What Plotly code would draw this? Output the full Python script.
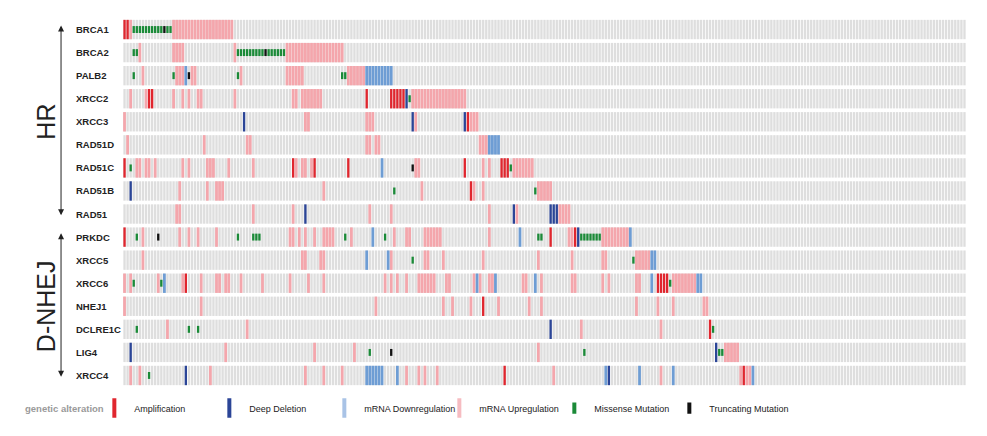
import plotly.graph_objects as go

# ---------------- data ----------------
GENES = ["BRCA1", "BRCA2", "PALB2", "XRCC2", "XRCC3", "RAD51D", "RAD51C", "RAD51B",
         "RAD51", "PRKDC", "XRCC5", "XRCC6", "NHEJ1", "DCLRE1C", "LIG4", "XRCC4"]
GROUPS = [("HR", "BRCA1", "RAD51"), ("D-NHEJ", "PRKDC", "XRCC4")]
N_SAMPLES = 275

# sample indices (ints) or inclusive runs (start, end)
MRNA_UP = {
    "BRCA1": [2, (16, 35)],
    "BRCA2": [5, (16, 19), 36, (53, 71)],
    "PALB2": [6, (17, 19), 22, 23, 38, (53, 58), (73, 78)],
    "XRCC2": [2, 7, 16, 19, 21, 24, 25, 36, 55, 56, (58, 64), (94, 111)],
    "XRCC3": [0, 59, 60, (79, 81), 95, (113, 115)],
    "RAD51D": [1, 26, 40, 41, 79, 80, 82, 83, (116, 118)],
    "RAD51C": [4, 5, 7, 8, 10, 19, 21, (27, 29), 34, 42, 56, 58, 59, 61, 95, 96, 117, 119, (127, 133)],
    "RAD51B": [18, 27, (30, 32), 65, 97, 114, 117, (135, 139)],
    "RAD51": [17, 18, 42, 55, 80, 87, 119, 128, (142, 145)],
    "PRKDC": [6, 18, 21, 24, 30, 54, 55, 57, 59, 62, (65, 68), 74, 88, 92, 93, (98, 103), 119,
              145, 146, (156, 164)],
    "XRCC5": [6, 58, 59, 64, 65, 87, 98, 99, 104, 117, 135, 146, 156, 157, (167, 171)],
    "XRCC6": [0, 2, 11, 19, 25, 30, 31, 33, 34, 38, 45, 54, 60, 65, 85, 87, 89, 92, (96, 101),
              105, 106, 114, 116, 119, 120, 130, 131, 136, 146, 147, 156, 158, 167, 168, (179, 186)],
    "NHEJ1": [0, 25, 82, 104, 107, 113, 122, 132, 136, 167, 174, 179, 189, 190],
    "DCLRE1C": [14, 40, 149, 175],
    "LIG4": [33, 62, 75, 135, (196, 200)],
    "XRCC4": [2, 5, 28, 59, 65, 71, 92, 96, 98, 102, 140, 175, 201, 203, 204],
}
MRNA_DOWN = {
    "PALB2": [20, (79, 87)],
    "RAD51D": [(119, 122)],
    "RAD51C": [84],
    "PRKDC": [81, 129, 165],
    "XRCC5": [79, 86, 172, 173],
    "XRCC6": [13, 115, 121, 134, 172, 187, 188],
    "XRCC4": [(79, 84), 89, 157, 168, 179, 205],
}
AMPLIFICATION = {
    "BRCA1": [0, 1],
    "XRCC2": [8, 9, 79, (87, 91)],
    "XRCC3": [112],
    "RAD51C": [0, 55, 62, 73, 111, (123, 125)],
    "RAD51B": [113],
    "PRKDC": [0, 139, 147],
    "XRCC6": [20, (174, 177)],
    "NHEJ1": [117],
    "DCLRE1C": [191],
    "XRCC4": [124, 202],
}
DEEP_DELETION = {
    "XRCC2": [92],
    "XRCC3": [39, 94, 111],
    "RAD51B": [2],
    "RAD51": [59, 127, (139, 141)],
    "PRKDC": [148],
    "DCLRE1C": [139],
    "LIG4": [2, 193],
    "XRCC4": [20, 158],
}
MISSENSE = {
    "BRCA1": [(3, 12), 14, 15],
    "BRCA2": [3, 4, (37, 45), (47, 52)],
    "PALB2": [3, 16, 37, 71, 72],
    "XRCC2": [93],
    "RAD51C": [2, 126],
    "RAD51B": [88, 134],
    "PRKDC": [4, 37, 42, 43, 44, 72, 85, 135, 136, (149, 155)],
    "XRCC5": [94, 166],
    "XRCC6": [3, 12, 178],
    "DCLRE1C": [4, 21, 24, 192],
    "LIG4": [80, 150, 194, 195],
    "XRCC4": [8],
}
TRUNCATING = {
    "BRCA1": [13],
    "BRCA2": [46],
    "PALB2": [21],
    "RAD51C": [94],
    "PRKDC": [11],
    "LIG4": [87],
}

LEGEND_TITLE = "genetic alteration"
LEGEND_LABELS = ["Amplification", "Deep Deletion", "mRNA Downregulation",
                 "mRNA Upregulation", "Missense Mutation", "Truncating Mutation"]

# ---------------- styles ----------------
C_BG = "#DEDEDE"
C_UP = "#F4A6AC"
C_DOWN = "#6E9DD4"
C_AMP = "#E0262E"
C_DEL = "#2B4597"
C_MIS = "#1B8A38"
C_TRUNC = "#111111"
CELL_H = 0.84
MUT_H = 0.30
COL_W = 0.76
FONT = "Liberation Sans, Arial, sans-serif"


def expand(items):
    out = []
    for it in items:
        if isinstance(it, tuple):
            out.extend(range(it[0], it[1] + 1))
        else:
            out.append(it)
    return out


row_of = {g: i for i, g in enumerate(GENES)}

fig = go.Figure()

# background grey cells
bx, bb = [], []
for g in GENES:
    for s in range(N_SAMPLES):
        bx.append(s)
        bb.append(row_of[g] - CELL_H / 2)
fig.add_trace(go.Bar(x=bx, y=[CELL_H] * len(bx), base=bb, width=COL_W,
                     marker=dict(color=C_BG, line=dict(width=0)),
                     showlegend=False, hoverinfo="skip"))


def add_layer(data, color, height, width):
    xs, bs = [], []
    for g, items in data.items():
        for s in expand(items):
            xs.append(s)
            bs.append(row_of[g] - height / 2)
    fig.add_trace(go.Bar(x=xs, y=[height] * len(xs), base=bs, width=width,
                         marker=dict(color=color, line=dict(width=0)),
                         showlegend=False, hoverinfo="skip"))


add_layer(MRNA_UP, C_UP, CELL_H, 0.9)
add_layer(MRNA_DOWN, C_DOWN, CELL_H, 0.9)
add_layer(AMPLIFICATION, C_AMP, CELL_H, COL_W)
add_layer(DEEP_DELETION, C_DEL, CELL_H, COL_W)
add_layer(MISSENSE, C_MIS, MUT_H, COL_W)
add_layer(TRUNCATING, C_TRUNC, MUT_H, COL_W)

# legend entries (dummy traces)
leg_colors = [C_AMP, C_DEL, "#A9C3E6", "#F6BCC1", C_MIS, C_TRUNC]
leg_sizes = [14, 14, 14, 14, 8, 8]
for lab, col, sz in zip(LEGEND_LABELS, leg_colors, leg_sizes):
    fig.add_trace(go.Scatter(x=[None], y=[None], mode="markers", name=lab,
                             marker=dict(symbol="line-ns", size=sz,
                                         line=dict(color=col, width=4))))
# invisible trailing entry so the last label is not clipped
fig.add_trace(go.Scatter(x=[None], y=[None], mode="markers", name=" ",
                         marker=dict(symbol="line-ns", size=1,
                                     line=dict(color="rgba(0,0,0,0)", width=0))))

# gene labels
annotations = []
for g in GENES:
    annotations.append(dict(x=-0.0581, xref="paper", y=row_of[g], yref="y",
                            text="<b>%s</b>" % g, showarrow=False, xanchor="left",
                            font=dict(family=FONT, size=9.5, color="#222222")))

# group labels and arrows
for name, g0, g1 in GROUPS:
    r0, r1 = row_of[g0], row_of[g1]
    annotations.append(dict(x=-0.0915, xref="paper", y=(r0 + r1) / 2, yref="y",
                            text=name, showarrow=False, textangle=-90,
                            xanchor="center", yanchor="middle",
                            font=dict(family=FONT, size=25, color="#222222")))
    annotations.append(dict(x=-0.0735, xref="paper", y=r0 - 0.17, yref="y",
                            ax=0, axref="pixel", ay=r1 + 0.12, ayref="y",
                            text="", showarrow=True, arrowhead=2, arrowside="end+start",
                            arrowsize=1.2, arrowwidth=1, arrowcolor="#222222"))

# legend title
annotations.append(dict(x=-0.119, xref="paper", y=-0.057, yref="paper",
                        text="<b>%s</b>" % LEGEND_TITLE, showarrow=False,
                        xanchor="left", yanchor="middle",
                        font=dict(family=FONT, size=9.5, color="#9A9A9A")))

fig.update_layout(
    width=987, height=436,
    margin=dict(l=123, r=21, t=18, b=49),
    paper_bgcolor="white", plot_bgcolor="white",
    barmode="overlay",
    xaxis=dict(visible=False, range=[-0.5, N_SAMPLES - 0.5], fixedrange=True),
    yaxis=dict(visible=False, range=[len(GENES) - 0.5, -0.5], fixedrange=True),
    annotations=annotations,
    showlegend=True,
    legend=dict(orientation="h", x=-0.034, xanchor="left", y=-0.057, yanchor="middle",
                entrywidth=70, entrywidthmode="pixels", itemsizing="trace",
                itemwidth=30, traceorder="normal",
                font=dict(family=FONT, size=9, color="#222222")),
)

fig.write_html("out.html")
